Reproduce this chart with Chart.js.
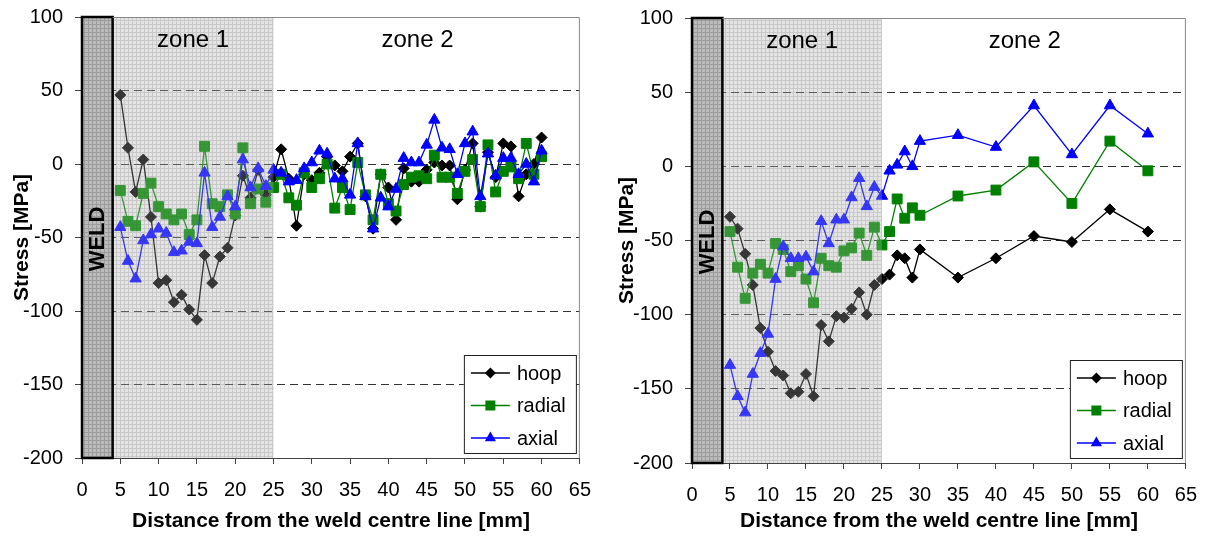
<!DOCTYPE html>
<html>
<head>
<meta charset="utf-8">
<script src="https://cdn.jsdelivr.net/npm/chart.js@4.4.1/dist/chart.umd.min.js"></script>
<style>
  html, body { margin: 0; padding: 0; background: #fff; }
  .panel { position: absolute; top: 0; height: 536px; }
  #left-panel { left: 0; width: 605px; }
  #right-panel { left: 605px; width: 606px; }
</style>
</head>
<body>
<div class="panel" id="left-panel"><canvas id="chart-left"></canvas></div>
<div class="panel" id="right-panel"><canvas id="chart-right"></canvas></div>
<script>
'use strict';

const seriesNames = ['hoop', 'radial', 'axial'];
const xTickValues = [0, 5, 10, 15, 20, 25, 30, 35, 40, 45, 50, 55, 60, 65];
const yTickValues = [-200, -150, -100, -50, 0, 50, 100];
const zoneNames = ['zone 1', 'zone 2'];
const weldLabel = 'WELD';
const weldRange = [0, 4];
const zone1Range = [4, 25];

// left panel: every 1 mm from 5 to 60
const leftDistance = [5, 6, 7, 8, 9, 10, 11, 12, 13, 14, 15, 16, 17, 18, 19, 20, 21, 22, 23, 24, 25, 26, 27, 28, 29, 30,
  31, 32, 33, 34, 35, 36, 37, 38, 39, 40, 41, 42, 43, 44, 45, 46, 47, 48, 49, 50, 51, 52, 53, 54, 55, 56, 57, 58, 59, 60];
const leftHoop = [47, 11, -19, 3, -36, -81, -79, -94, -89, -99, -106, -62, -81, -63, -57, -35, -8, -23, -4, -21, -9, 10, -10, -42, -7, -11,
  -6, 5, -1, -5, 5, 14, -22, -44, -7, -16, -38, -3, -12, -12, -4, 1, -1, -1, -24, -4, 14, -29, 8, -9, 14, 12, -22, -7, 0, 18];
const leftRadial = [-18, -39, -42, -20, -13, -29, -34, -38, -34, -48, -38, 12, -27, -29, -21, -34, 11, -27, -17, -26, -16, -7, -23, -28, -6, -16,
  -10, 0, -30, -16, -31, 1, -21, -38, -7, -27, -32, -14, -9, -8, -10, 6, -9, -9, -20, -5, 3, -29, 13, -19, -5, -2, -10, 14, -7, 5];
const leftAxial = [-43, -66, -78, -52, -48, -44, -47, -60, -59, -53, -54, -6, -43, -36, -22, -29, 3, -16, -3, -15, -4, -6, -12, -11, -3, 1,
  9, 7, -10, -10, -21, 14, -22, -44, -23, -29, -17, 4, 1, 1, 13, 30, 11, 10, -7, 14, 22, -22, 7, -8, 4, 4, -7, 0, -12, 9];

// right panel: 1 mm steps to 30, then 5 mm steps
const rightDistance = [5, 6, 7, 8, 9, 10, 11, 12, 13, 14, 15, 16, 17, 18, 19, 20, 21, 22, 23, 24, 25,
  26, 27, 28, 29, 30, 35, 40, 45, 50, 55, 60];
const rightHoop = [-34, -42, -59, -80, -109, -125, -138, -141, -153, -152, -140, -155, -107, -118, -101, -102, -96, -85, -100, -80, -76,
  -73, -60, -62, -75, -56, -75, -62, -47, -51, -29, -44];
const rightRadial = [-44, -68, -89, -72, -66, -72, -52, -56, -71, -67, -76, -92, -62, -67, -68, -57, -55, -45, -60, -41, -53,
  -44, -22, -35, -28, -33, -20, -16, 3, -25, 17, -3];
const rightAxial = [-134, -155, -166, -140, -126, -113, -76, -54, -62, -62, -61, -71, -37, -52, -36, -36, -21, -8, -27, -14, -20,
  -3, 1, 10, 0, 17, 21, 13, 41, 8, 41, 22];

const FONT = "'Liberation Sans', Arial, sans-serif";
Chart.defaults.font.family = FONT;
Chart.defaults.color = '#000';

const seriesStyle = [
  { color: '#000000', pointStyle: 'rectRot', radius: 5.5, order: 3 },
  { color: '#008000', pointStyle: 'rect', radius: 7, order: 2 },
  { color: '#0000ff', pointStyle: 'triangle', radius: 6.5, order: 1 },
];

function toPoints(xs, ys) {
  return xs.map(function (x, i) { return { x: x, y: ys[i] }; });
}

function makePattern(ctx, base, line, size) {
  const c = document.createElement('canvas');
  c.width = size;
  c.height = size;
  const g = c.getContext('2d');
  g.fillStyle = base;
  g.fillRect(0, 0, size, size);
  g.fillStyle = line;
  g.fillRect(0, 0, size, 1);
  g.fillRect(0, 0, 1, size);
  return ctx.createPattern(c, 'repeat');
}

function drawSymbol(ctx, style, cx, cy) {
  ctx.fillStyle = style.color;
  ctx.beginPath();
  if (style.pointStyle === 'rectRot') {
    ctx.moveTo(cx - 5.5, cy);
    ctx.lineTo(cx, cy - 5.5);
    ctx.lineTo(cx + 5.5, cy);
    ctx.lineTo(cx, cy + 5.5);
  } else if (style.pointStyle === 'rect') {
    ctx.rect(cx - 5, cy - 5, 10, 10);
  } else {
    ctx.moveTo(cx, cy - 6.5);
    ctx.lineTo(cx + 5.6, cy + 3.3);
    ctx.lineTo(cx - 5.6, cy + 3.3);
  }
  ctx.closePath();
  ctx.fill();
}

const zonePlugin = {
  id: 'zones',
  beforeDraw: function (chart) {
    const ctx = chart.ctx;
    const area = chart.chartArea;
    const x = chart.scales.x;
    const x1 = x.getPixelForValue(zone1Range[0]);
    const x2 = x.getPixelForValue(zone1Range[1]);
    ctx.save();
    ctx.fillStyle = makePattern(ctx, '#e4e4e4', '#c9c9c9', 4);
    ctx.fillRect(x1, area.top, x2 - x1, area.bottom - area.top);
    ctx.restore();
  },
  afterDatasetsDraw: function (chart) {
    const ctx = chart.ctx;
    const area = chart.chartArea;
    const x = chart.scales.x;
    const y = chart.scales.y;
    const h = area.bottom - area.top;
    const z1 = x.getPixelForValue(zone1Range[0]);
    const z2 = x.getPixelForValue(zone1Range[1]);
    ctx.save();
    // faint texture over the marks in zone 1
    ctx.globalAlpha = 0.25;
    ctx.fillStyle = makePattern(ctx, '#e4e4e4', '#c9c9c9', 4);
    ctx.fillRect(z1, area.top, z2 - z1, h);
    ctx.globalAlpha = 1;

    // weld block
    const w1 = x.getPixelForValue(weldRange[0]);
    const w2 = x.getPixelForValue(weldRange[1]);
    ctx.fillStyle = makePattern(ctx, '#bcbcbc', '#9c9c9c', 4);
    ctx.fillRect(w1, area.top, w2 - w1, h);
    ctx.lineWidth = 2.5;
    ctx.strokeStyle = '#000';
    ctx.strokeRect(w1, area.top, w2 - w1, h);

    ctx.save();
    ctx.translate((w1 + w2) / 2, y.getPixelForValue(-51));
    ctx.rotate(-Math.PI / 2);
    ctx.font = 'bold 22px ' + FONT;
    ctx.fillStyle = '#000';
    ctx.textAlign = 'center';
    ctx.textBaseline = 'middle';
    ctx.fillText(weldLabel, 0, 1);
    ctx.restore();

    // zone captions
    ctx.font = '24px ' + FONT;
    ctx.fillStyle = '#000';
    ctx.textAlign = 'center';
    ctx.textBaseline = 'middle';
    ctx.fillText(zoneNames[0], x.getPixelForValue(14.5), area.top + 23);
    ctx.fillText(zoneNames[1], x.getPixelForValue(43.8), area.top + 23);

    // top and right frame
    ctx.strokeStyle = '#888';
    ctx.lineWidth = 1;
    ctx.beginPath();
    ctx.moveTo(w2, area.top + 0.5);
    ctx.lineTo(area.right - 0.5, area.top + 0.5);
    ctx.lineTo(area.right - 0.5, area.bottom);
    ctx.stroke();

    // legend box
    const bw = 112, bh = 98;
    const bx = area.right - 4 - bw;
    const by = area.bottom - 5 - bh;
    ctx.fillStyle = '#fff';
    ctx.fillRect(bx, by, bw, bh);
    ctx.strokeStyle = '#222';
    ctx.strokeRect(bx + 0.5, by + 0.5, bw, bh);
    ctx.font = '20px ' + FONT;
    ctx.textAlign = 'left';
    seriesNames.forEach(function (name, i) {
      const st = seriesStyle[i];
      const cy = by + 18 + i * 32.5;
      ctx.strokeStyle = st.color;
      ctx.lineWidth = 1.3;
      ctx.beginPath();
      ctx.moveTo(bx + 7, cy);
      ctx.lineTo(bx + 46, cy);
      ctx.stroke();
      drawSymbol(ctx, st, bx + 26.5, cy);
      ctx.fillStyle = '#000';
      ctx.fillText(name, bx + 53, cy + 1);
    });
    ctx.restore();
  },
};

function buildChart(canvasId, distance, values, frame) {
  const datasets = values.map(function (vals, i) {
    const st = seriesStyle[i];
    return {
      label: seriesNames[i],
      data: toPoints(distance, vals),
      borderColor: st.color,
      backgroundColor: st.color,
      borderWidth: 1.3,
      pointStyle: st.pointStyle,
      pointRadius: st.radius,
      pointBorderWidth: 1,
      pointBackgroundColor: st.color,
      pointBorderColor: st.color,
      tension: 0,
      order: st.order,
    };
  });

  return new Chart(document.getElementById(canvasId), {
    type: 'line',
    data: { datasets: datasets },
    plugins: [zonePlugin],
    options: {
      responsive: true,
      maintainAspectRatio: false,
      animation: false,
      layout: { padding: { left: 0, right: frame.right, top: frame.top, bottom: 0 } },
      plugins: {
        legend: { display: false },
        tooltip: { enabled: false },
      },
      scales: {
        x: {
          type: 'linear',
          min: 0,
          max: 65,
          afterBuildTicks: function (scale) {
            scale.ticks = xTickValues.map(function (v) { return { value: v }; });
          },
          afterFit: function (scale) { scale.height = frame.xHeight; },
          grid: { drawOnChartArea: false, drawTicks: true, tickLength: 6, color: '#444', tickColor: '#444' },
          border: { display: true, color: '#444', width: 1 },
          ticks: { font: { size: 20 }, padding: 14, color: '#000', maxRotation: 0 },
          title: {
            display: true,
            text: 'Distance from the weld centre line [mm]',
            font: { size: 21, weight: 'bold' },
            padding: { top: 0, bottom: 2 },
            color: '#000',
          },
        },
        y: {
          min: -200,
          max: 100,
          afterBuildTicks: function (scale) {
            scale.ticks = yTickValues.map(function (v) { return { value: v }; });
          },
          afterFit: function (scale) {
            scale.width = frame.yWidth;
            scale.paddingTop = 0;
            scale.paddingBottom = 0;
          },
          grid: {
            color: function (c) {
              return (c.tick && (c.tick.value === 100 || c.tick.value === -200)) ? 'rgba(0,0,0,0)' : '#333';
            },
            lineWidth: 1,
            tickLength: 7,
            tickColor: '#444',
          },
          border: { display: false, dash: [8, 5] },
          ticks: { font: { size: 20 }, padding: 12, color: '#000' },
          title: {
            display: true,
            text: 'Stress [MPa]',
            font: { size: 21, weight: 'bold' },
            padding: { top: 10, bottom: 0 },
            color: '#000',
          },
        },
      },
    },
  });
}

buildChart('chart-left', leftDistance, [leftHoop, leftRadial, leftAxial],
  { right: 23, top: 17, yWidth: 82, xHeight: 78 });
buildChart('chart-right', rightDistance, [rightHoop, rightRadial, rightAxial],
  { right: 17, top: 18, yWidth: 87, xHeight: 73 });
</script>
</body>
</html>
